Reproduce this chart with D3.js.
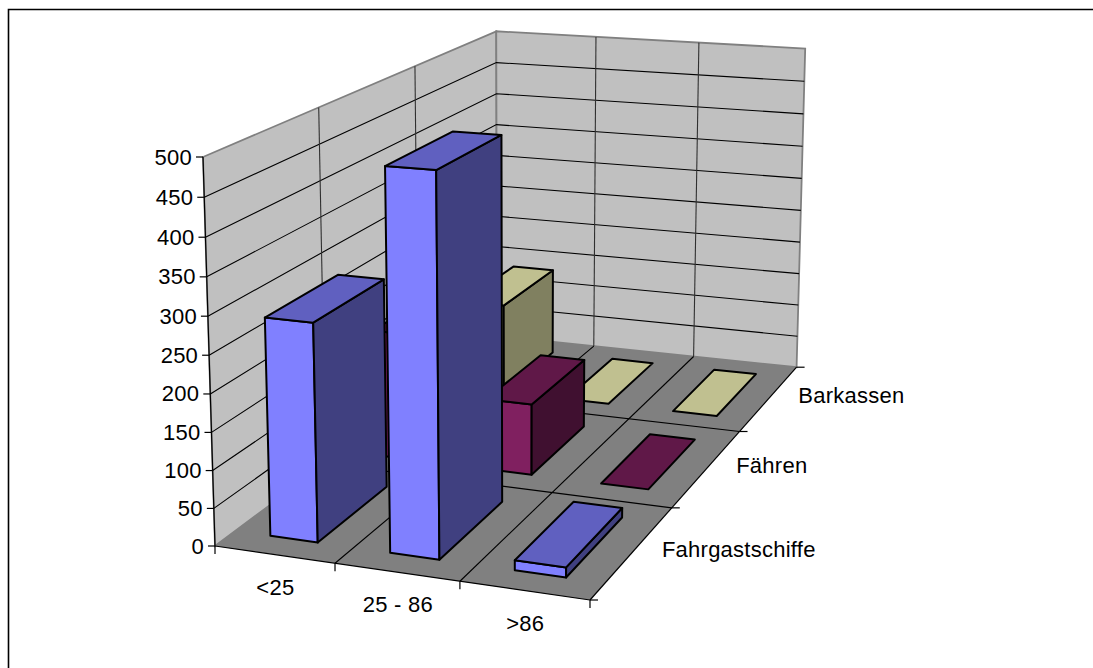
<!DOCTYPE html>
<html>
<head>
<meta charset="utf-8">
<script src="https://cdnjs.cloudflare.com/ajax/libs/d3/7.8.5/d3.min.js"></script>
<style>
html, body { margin: 0; padding: 0; background: #fff; }
svg { display: block; }
text { font-family: "Liberation Sans", Arial, sans-serif; font-size: 22px; letter-spacing: 0.25px; fill: #000; }
</style>
</head>
<body>
<svg id="chart" width="1093" height="668"></svg>
<script>
// Vessel counts by length class, one row per vessel type (front to back).
const categories = ["<25", "25 - 86", ">86"];
const seriesNames = ["Fahrgastschiffe", "Fähren", "Barkassen"];
const fahrgastschiffe = [288, 493, 13];
const faehren = [180, 100, 0];
const barkassen = [135, 0, 0];
const seriesValues = [fahrgastschiffe, faehren, barkassen];
const valueTicks = d3.range(0, 501, 50);

// Face colours per series: front, top, side.
const faceColors = [
  { front: "#8080ff", top: "#6060c0", side: "#404080" },
  { front: "#802060", top: "#601848", side: "#401030" },
  { front: "#ffffc0", top: "#c0c090", side: "#808060" }
];

const barWidth = 0.4;   // share of a category cell
const barDepth = 0.66;  // share of a series cell

// Screen anchors of the plot box, used to set up the perspective projection.
const anchor = {
  origin: [215, 546],  // front left floor
  right: [590, 600],   // front right floor
  back: [497, 336],    // back left floor
  up: [203, 157],      // front left top
  backRight: [798, 365],
  backUp: [497, 31],
  backRightUp: [805, 50]
};

// Least-squares fit of the three perspective terms of the projection.
function fitPerspective(p) {
  const { origin: A, right: B, back: D, up: E, backRight: C, backUp: F, backRightUp: G } = p;
  const rows = [];
  [0, 1].forEach(i => {
    rows.push([B[i] - C[i], 0, D[i] - C[i], C[i] - B[i] - D[i] + A[i]]);
    rows.push([0, E[i] - F[i], D[i] - F[i], F[i] - E[i] - D[i] + A[i]]);
    rows.push([B[i] - G[i], E[i] - G[i], D[i] - G[i], G[i] - B[i] - E[i] - D[i] + 2 * A[i]]);
  });
  const N = [0, 1, 2].map(r => [0, 1, 2, 3].map(c => d3.sum(rows, q => q[r] * q[c])));
  for (let i = 0; i < 3; i++) {
    for (let j = 0; j < 3; j++) {
      if (j === i) continue;
      const f = N[j][i] / N[i][i];
      for (let k = 0; k < 4; k++) N[j][k] -= f * N[i][k];
    }
  }
  return [N[0][3] / N[0][0], N[1][3] / N[1][1], N[2][3] / N[2][2]];
}

const [pa, pb, pc] = fitPerspective(anchor);

// Model scales: u across categories, v up the value axis, w into depth.
const uScale = d3.scaleLinear().domain([0, categories.length]).range([0, 1]);
const vScale = d3.scaleLinear().domain([0, 500]).range([0, 1]);
const wScale = d3.scaleLinear().domain([0, seriesNames.length]).range([0, 1]);

function project(cat, val, ser) {
  const u = uScale(cat), v = vScale(val), w = wScale(ser);
  const d = 1 + pa * u + pb * v + pc * w;
  const at = i => {
    const A = anchor.origin[i];
    const mu = anchor.right[i] * (1 + pa) - A;
    const mv = anchor.up[i] * (1 + pb) - A;
    const mw = anchor.back[i] * (1 + pc) - A;
    return (A + u * mu + v * mv + w * mw) / d;
  };
  return [at(0), at(1)];
}

const svg = d3.select("#chart");
const line = d3.line();
const closed = pts => line(pts) + "Z";
const nCat = categories.length, nSer = seriesNames.length;

// Outer chart border: only the top and left edges fall inside the page.
svg.append("path")
  .attr("d", line([[8.5, 668], [8.5, 9.5], [1093, 9.5]]))
  .attr("fill", "none").attr("stroke", "#000").attr("stroke-width", 1.6);

// Walls and floor.
const box = svg.append("g");
box.append("path")
  .attr("d", closed([project(0, 0, 0), project(0, 500, 0), project(0, 500, nSer), project(0, 0, nSer)]))
  .attr("fill", "#c0c0c0").attr("stroke", "#808080").attr("stroke-width", 1.8);
box.append("path")
  .attr("d", closed([project(0, 0, nSer), project(0, 500, nSer), project(nCat, 500, nSer), project(nCat, 0, nSer)]))
  .attr("fill", "#c0c0c0").attr("stroke", "#808080").attr("stroke-width", 1.8);
box.append("path")
  .attr("d", closed([project(0, 0, 0), project(nCat, 0, 0), project(nCat, 0, nSer), project(0, 0, nSer)]))
  .attr("fill", "#808080");

// Gridlines on the walls and the floor.
const grid = svg.append("g").attr("fill", "none").attr("stroke", "#000").attr("stroke-width", 1.1);
grid.selectAll("path.value")
  .data(valueTicks.slice(1, -1))
  .join("path").attr("class", "value")
  .attr("d", t => line([project(0, t, 0), project(0, t, nSer), project(nCat, t, nSer)]));
grid.selectAll("path.wallSer")
  .data(d3.range(1, nSer))
  .join("path").attr("class", "wallSer")
  .attr("stroke", "#303030")
  .attr("d", s => line([project(0, 0, s), project(0, 500, s)]));
grid.selectAll("path.wallCat")
  .data(d3.range(1, nCat))
  .join("path").attr("class", "wallCat")
  .attr("stroke", "#303030")
  .attr("d", c => line([project(c, 0, nSer), project(c, 500, nSer)]));
grid.selectAll("path.floorSer")
  .data(d3.range(1, nSer))
  .join("path").attr("class", "floorSer")
  .attr("d", s => line([project(0, 0, s), project(nCat, 0, s)]));
grid.selectAll("path.floorCat")
  .data(d3.range(1, nCat))
  .join("path").attr("class", "floorCat")
  .attr("d", c => line([project(c, 0, 0), project(c, 0, nSer)]));

// Axis lines and tick marks.
const axes = svg.append("g").attr("fill", "none").attr("stroke", "#000").attr("stroke-width", 1.2);
axes.append("path").attr("d", line([project(0, 0, 0), project(0, 500, 0)]));
axes.append("path").attr("d", line([project(0, 0, 0), project(nCat, 0, 0)]));
axes.append("path").attr("d", line([project(nCat, 0, 0), project(nCat, 0, nSer)]));
valueTicks.forEach(t => {
  const [x, y] = project(0, t, 0);
  axes.append("path").attr("d", line([[x - 7, y], [x, y]]));
});
d3.range(0, nCat + 1).forEach(c => {
  const [x, y] = project(c, 0, 0);
  axes.append("path").attr("d", line([[x, y], [x, y + 8]]));
});
d3.range(0, nSer + 1).forEach(s => {
  const [x, y] = project(nCat, 0, s);
  axes.append("path").attr("d", line([[x, y], [x + 8, y]]));
});

// Bars are painted back row first and left to right, so nearer ones overlap.
const bars = svg.append("g").attr("stroke", "#000").attr("stroke-width", 2).attr("stroke-linejoin", "round");
d3.range(nSer - 1, -1, -1).forEach(s => {
  categories.forEach((_, c) => {
    const value = seriesValues[s][c];
    const x0 = c + (1 - barWidth) / 2, x1 = x0 + barWidth;
    const z0 = s + (1 - barDepth) / 2, z1 = z0 + barDepth;
    const col = faceColors[s];
    if (value > 0) {
      bars.append("path").attr("fill", col.front)
        .attr("d", closed([project(x0, 0, z0), project(x1, 0, z0), project(x1, value, z0), project(x0, value, z0)]));
      bars.append("path").attr("fill", col.side)
        .attr("d", closed([project(x1, 0, z0), project(x1, 0, z1), project(x1, value, z1), project(x1, value, z0)]));
    }
    bars.append("path").attr("fill", col.top)
      .attr("d", closed([project(x0, value, z0), project(x1, value, z0), project(x1, value, z1), project(x0, value, z1)]));
  });
});

// Axis labels.
const labels = svg.append("g");
valueTicks.forEach(t => {
  const [x, y] = project(0, t, 0);
  labels.append("text").attr("x", x - 11).attr("y", y + 7.5).attr("text-anchor", "end").text(t);
});
categories.forEach((name, c) => {
  const [x, y] = project(c + 0.5, 0, 0);
  labels.append("text").attr("x", x + 1).attr("y", y + 40).attr("text-anchor", "middle").text(name);
});
seriesNames.forEach((name, s) => {
  const [x, y] = project(nCat, 0, s + 0.5);
  labels.append("text").attr("x", x + 29).attr("y", y + 5).text(name);
});
</script>
</body>
</html>
